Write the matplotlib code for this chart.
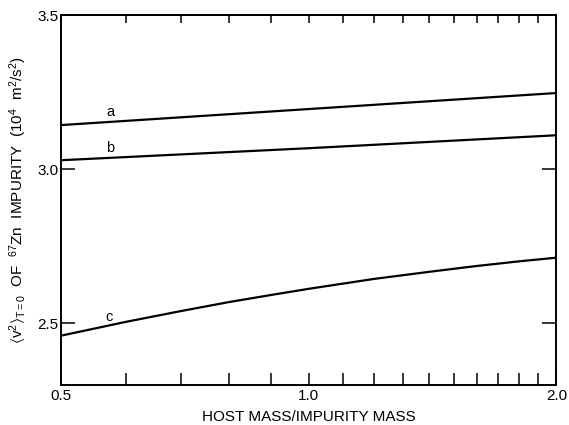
import numpy as np
import matplotlib
matplotlib.use('Agg')
import matplotlib.pyplot as plt
from matplotlib.ticker import FixedLocator, NullFormatter

plt.rcParams['font.family'] = ['Liberation Sans', 'DejaVu Sans']
plt.rcParams['mathtext.fontset'] = 'custom'
plt.rcParams['mathtext.rm'] = 'Liberation Sans'
plt.rcParams['mathtext.it'] = 'Liberation Sans'
plt.rcParams['mathtext.default'] = 'regular'

# Données (x en échelle log)
mass_ratio_ab = [0.5, 1.0, 2.0]
curve_a = [3.143, 3.195, 3.247]
curve_b = [3.029, 3.068, 3.110]

mass_ratio_c = [0.5, 0.6, 0.7, 0.8, 0.9, 1.0, 1.2, 1.4, 1.6, 1.8, 2.0]
curve_c = [2.460, 2.505, 2.540, 2.569, 2.592, 2.612, 2.644, 2.667, 2.686, 2.701, 2.713]

major_x = [0.5, 1.0, 2.0]
minor_x = [0.6, 0.7, 0.8, 0.9, 1.1, 1.2, 1.3, 1.4, 1.5, 1.6, 1.7, 1.8, 1.9]
y_ticks = [2.5, 3.0, 3.5]

fig = plt.figure(figsize=(5.69, 4.25), dpi=100)
ax = fig.add_axes([0.1072, 0.0941, 0.8708, 0.8706])

lw = 1.6
ax.plot(mass_ratio_ab, curve_a, color='black', lw=lw)
ax.plot(mass_ratio_ab, curve_b, color='black', lw=lw)
ax.plot(mass_ratio_c, curve_c, color='black', lw=lw)

ax.text(0.574, 3.187, 'a', fontsize=10.5, ha='center', va='center')
ax.text(0.574, 3.068, 'b', fontsize=10.5, ha='center', va='center')
ax.text(0.572, 2.519, 'c', fontsize=10.5, ha='center', va='center')

ax.set_xscale('log')
ax.set_xlim(0.5, 2.0)
ax.set_ylim(2.3, 3.5)

ax.xaxis.set_major_locator(FixedLocator(major_x))
ax.xaxis.set_minor_locator(FixedLocator(minor_x))
ax.xaxis.set_minor_formatter(NullFormatter())
ax.set_xticklabels(['0.5', '1.0', '2.0'])
ax.set_yticks(y_ticks)
ax.set_yticklabels(['2.5', '3.0', '3.5'])

ax.tick_params(axis='x', which='both', direction='in', length=8.5, width=1.1,
               labelsize=11, pad=3, top=False)
ax.tick_params(axis='y', direction='in', length=10, width=1.1,
               labelsize=11, pad=2, right=True)

# graduations du haut plus courtes
top = ax.secondary_xaxis('top')
top.xaxis.set_major_locator(FixedLocator(major_x))
top.xaxis.set_minor_locator(FixedLocator(minor_x))
top.xaxis.set_major_formatter(NullFormatter())
top.xaxis.set_minor_formatter(NullFormatter())
top.tick_params(which='both', direction='in', length=6, width=1.1)
top.spines['top'].set_linewidth(1.4)

for s in ax.spines.values():
    s.set_linewidth(1.4)

ax.set_xlabel('HOST MASS/IMPURITY MASS', fontsize=11, labelpad=5)
ax.set_ylabel(r'$\langle$v$^2\rangle_{T=0}$  OF  $^{67}$Zn  IMPURITY  (10$^4$  m$^2$/s$^2$)',
              fontsize=11, labelpad=6)

fig.savefig('out.png', dpi=100)
